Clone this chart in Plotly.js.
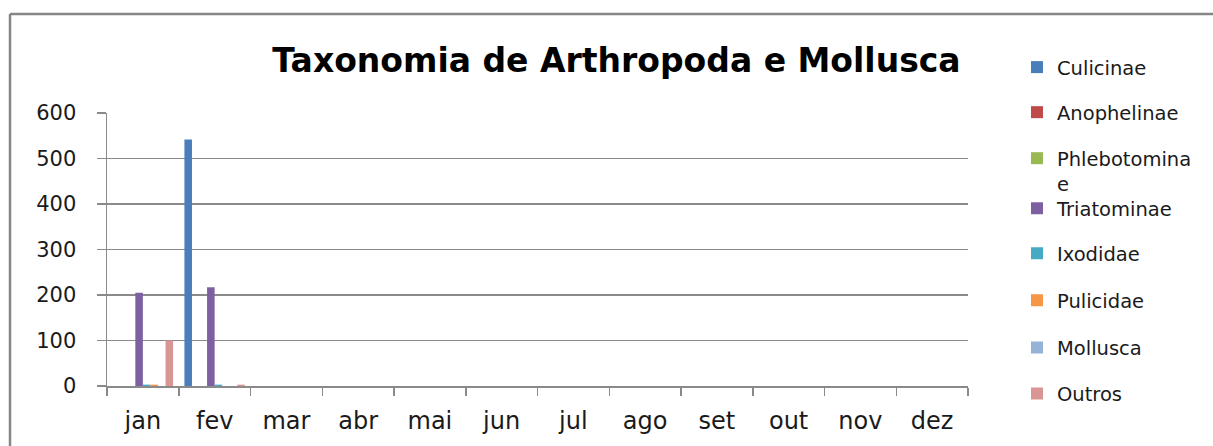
<!DOCTYPE html>
<html>
<head>
<meta charset="utf-8">
<script src="https://cdn.plot.ly/plotly-3.0.1.min.js"></script>
<style>
html,body{margin:0;padding:0;background:#fff;}
#chart{width:1213px;height:446px;}
</style>
</head>
<body>
<div id="chart"></div>
<script>
const months = ["jan","fev","mar","abr","mai","jun","jul","ago","set","out","nov","dez"];
const seriesNames = ["Culicinae","Anophelinae","Phlebotomina<br>e","Triatominae","Ixodidae","Pulicidae","Mollusca","Outros"];
const culicinae     = [0,542,0,0,0,0,0,0,0,0,0,0];
const anophelinae   = [0,0,0,0,0,0,0,0,0,0,0,0];
const phlebotominae = [0,0,0,0,0,0,0,0,0,0,0,0];
const triatominae   = [205,217,0,0,0,0,0,0,0,0,0,0];
const ixodidae      = [3,3,0,0,0,0,0,0,0,0,0,0];
const pulicidae     = [3,0,0,0,0,0,0,0,0,0,0,0];
const mollusca      = [0,0,0,0,0,0,0,0,0,0,0,0];
const outros        = [100,3,0,0,0,0,0,0,0,0,0,0];
const seriesValues = [culicinae,anophelinae,phlebotominae,triatominae,ixodidae,pulicidae,mollusca,outros];
const colors = ["#4A7EBB","#BE4B48","#98B954","#7D60A0","#46AAC5","#F79646","#95B3D7","#D99694"];

const FONT = "'DejaVu Sans', Verdana, sans-serif";
const TXT = "#1a1a1a";
const GRID = "#8a8a8a";

// plot area in pixels
const L = 107, R = 968, T = 113, B = 385.7;
const PW = R - L, PH = B - T;
const px2x = p => (p - L) / PW;
const py2y = p => (B - p) / PH;

// legend symbol centre rows (pixels)
const legendRows = [67,112,158,208,253,300,347,393];

const traces = seriesNames.map((n,i) => ({
  type: "bar",
  name: n,
  x: months,
  y: seriesValues[i],
  marker: {color: colors[i], line: {width: 0}},
  legend: i === 0 ? "legend" : "legend" + (i + 1),
  hoverinfo: "x+y+name"
}));

const layout = {
  width: 1213, height: 446,
  margin: {l: L, r: 1213 - R, t: T, b: 446 - B},
  paper_bgcolor: "#ffffff",
  plot_bgcolor: "#ffffff",
  font: {family: FONT, color: TXT, size: 20},
  barmode: "group",
  bargap: 0.158,
  bargroupgap: 0,
  title: {
    text: "<b>Taxonomia de Arthropoda e Mollusca</b>",
    font: {family: FONT, size: 33, color: "#000"},
    xref: "paper", x: px2x(616.5), xanchor: "center",
    yref: "container", y: 1 - 60/446, yanchor: "middle"
  },
  xaxis: {
    type: "category",
    showline: true, linecolor: GRID, linewidth: 1.5,
    ticks: "outside", tickson: "boundaries", ticklen: 8, tickcolor: GRID, tickwidth: 1.5,
    tickfont: {family: FONT, size: 24, color: TXT},
    ticklabelstandoff: 13,
    showgrid: false, zeroline: false, fixedrange: true
  },
  yaxis: {
    range: [0, 600],
    tickvals: [0,100,200,300,400,500,600],
    showline: true, linecolor: GRID, linewidth: 1.5,
    ticks: "outside", ticklen: 9, tickcolor: GRID, tickwidth: 1.5,
    tickfont: {family: FONT, size: 21, color: TXT},
    ticklabelstandoff: 16,
    showgrid: true, gridcolor: GRID, gridwidth: 1.5,
    zeroline: false, fixedrange: true
  },
  shapes: [
    {type: "line", xref: "paper", yref: "paper", x0: px2x(10), x1: px2x(1230), y0: py2y(14), y1: py2y(14), line: {color: "#868686", width: 2.5}},
    {type: "line", xref: "paper", yref: "paper", x0: px2x(10), x1: px2x(10), y0: py2y(14), y1: py2y(460), line: {color: "#868686", width: 2.5}}
  ],
  showlegend: true
};

legendRows.forEach((py, i) => {
  const key = i === 0 ? "legend" : "legend" + (i + 1);
  layout[key] = {
    x: px2x(1017), xanchor: "left",
    y: py2y(py - 19), yanchor: "top",
    valign: "top",
    bgcolor: "rgba(0,0,0,0)",
    borderwidth: 0,
    font: {family: FONT, size: 19.5, color: TXT},
    itemclick: false, itemdoubleclick: false
  };
});

Plotly.newPlot("chart", traces, layout, {displayModeBar: false, staticPlot: true});
</script>
</body>
</html>
